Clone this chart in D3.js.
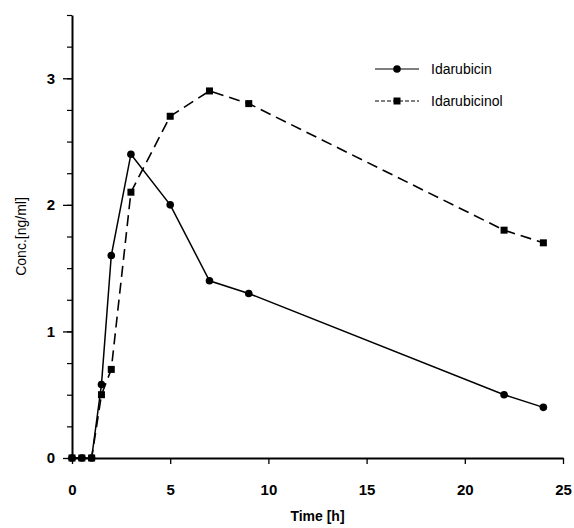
<!DOCTYPE html>
<html>
<head>
<meta charset="utf-8">
<script src="https://cdn.jsdelivr.net/npm/d3@7"></script>
<style>
  body { margin: 0; background: #fff; }
  svg { display: block; font-family: "Liberation Sans", Arial, sans-serif; }
  svg text { fill: #000; }
  .tick text { font-size: 15px; font-weight: bold; fill: #000; }
</style>
</head>
<body>
<div id="chart"></div>
<script>
// data
var times = [0, 0.5, 1, 1.5, 2, 3, 5, 7, 9, 22, 24];
var idarubicin = [0, 0, 0, 0.58, 1.6, 2.4, 2.0, 1.4, 1.3, 0.5, 0.4];
var idarubicinol = [0, 0, 0, 0.5, 0.7, 2.1, 2.7, 2.9, 2.8, 1.8, 1.7];
var seriesNames = ["Idarubicin", "Idarubicinol"];
var xTicks = [0, 5, 10, 15, 20, 25];
var yTicks = [0, 1, 2, 3];

var w = 574, h = 528;
var margin = {left: 72, right: 11, top: 15, bottom: 70};

var svg = d3.select("#chart").append("svg")
    .attr("width", w)
    .attr("height", h);

var x = d3.scaleLinear().domain([0, 25]).range([margin.left, w - margin.right]);
var y = d3.scaleLinear().domain([0, 3.5]).range([h - margin.bottom, margin.top]);

// x axis
var xAxis = svg.append("g")
    .attr("transform", "translate(0," + y(0) + ")")
    .call(d3.axisBottom(x).tickValues(xTicks).tickSize(6).tickPadding(20).tickSizeOuter(0));
xAxis.select(".domain").attr("stroke-width", 2);
xAxis.selectAll(".tick line").attr("stroke-width", 1.3);

// y axis, minor ticks every 0.25
svg.append("g")
    .attr("transform", "translate(" + x(0) + ",0)")
    .call(d3.axisLeft(y).tickValues(d3.range(0, 3.51, 0.25)).tickSize(5).tickFormat("").tickSizeOuter(0))
    .call(g => g.select(".domain").remove())
    .selectAll(".tick line").attr("stroke-width", 1.2);

var yAxis = svg.append("g")
    .attr("transform", "translate(" + x(0) + ",0)")
    .call(d3.axisLeft(y).tickValues(yTicks).tickFormat(d3.format("d")).tickSize(9).tickPadding(8).tickSizeOuter(0));
yAxis.select(".domain").attr("stroke-width", 2);
yAxis.selectAll(".tick line").attr("stroke-width", 1.3);

// axis titles
svg.append("text")
    .attr("x", (x(0) + x(25)) / 2)
    .attr("y", 521)
    .attr("text-anchor", "middle")
    .style("font-size", "14px")
    .style("font-weight", "bold")
    .text("Time [h]");

svg.append("text")
    .attr("transform", "translate(26," + y(1.75) + ") rotate(-90)")
    .attr("text-anchor", "middle")
    .style("font-size", "14px")
    .text("Conc.[ng/ml]");

var line = d3.line()
    .x(d => x(d[0]))
    .y(d => y(d[1]));

var ptsA = times.map((t, i) => [t, idarubicin[i]]);
var ptsB = times.map((t, i) => [t, idarubicinol[i]]);

svg.append("path")
    .datum(ptsB)
    .attr("d", line)
    .attr("fill", "none")
    .attr("stroke", "#000")
    .attr("stroke-width", 1.6)
    .attr("stroke-dasharray", "11,6");

svg.append("path")
    .datum(ptsA)
    .attr("d", line)
    .attr("fill", "none")
    .attr("stroke", "#000")
    .attr("stroke-width", 1.5);

svg.selectAll(".sq")
    .data(ptsB)
    .enter()
    .append("rect")
    .attr("class", "sq")
    .attr("x", d => x(d[0]) - 3.5)
    .attr("y", d => y(d[1]) - 3.5)
    .attr("width", 7)
    .attr("height", 7)
    .attr("fill", "#000");

svg.selectAll(".dot")
    .data(ptsA)
    .enter()
    .append("circle")
    .attr("class", "dot")
    .attr("cx", d => x(d[0]))
    .attr("cy", d => y(d[1]))
    .attr("r", 3.8)
    .attr("fill", "#000");

// legend
var legend = svg.append("g");
seriesNames.forEach(function (name, i) {
    var ly = 69 + i * 32;
    legend.append("line")
        .attr("x1", 375).attr("x2", 419)
        .attr("y1", ly).attr("y2", ly)
        .attr("stroke", "#000")
        .attr("stroke-width", 1.2)
        .attr("stroke-dasharray", i ? "4,2" : null);
    if (i) {
        legend.append("rect")
            .attr("x", 393.5).attr("y", ly - 3.5)
            .attr("width", 7).attr("height", 7);
    } else {
        legend.append("circle")
            .attr("cx", 397).attr("cy", ly).attr("r", 3.8);
    }
    legend.append("text")
        .attr("x", 431)
        .attr("y", ly + 5)
        .style("font-size", "14px")
        .text(name);
});
</script>
</body>
</html>
